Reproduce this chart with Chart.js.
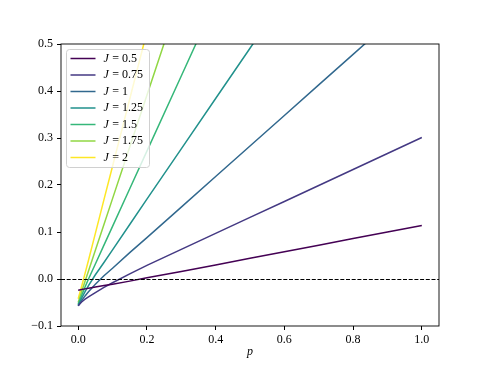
<!DOCTYPE html>
<html>
<head>
<meta charset="utf-8">
<script src="https://cdn.jsdelivr.net/npm/chart.js@4/dist/chart.umd.min.js"></script>
<style>
  html, body { margin: 0; padding: 0; background: #fff; }
  canvas { display: block; }
</style>
</head>
<body>
<canvas id="chart" width="488" height="366"></canvas>
<script>
// values
var pValues = [0, 0.01, 0.02, 0.03, 0.05, 0.075, 0.1, 0.15, 0.2, 0.3, 0.4, 0.5, 0.6, 0.7, 0.8, 0.9, 1.0];
var jValues = ['0.5', '0.75', '1', '1.25', '1.5', '1.75', '2'];
var series05  = [-0.024, -0.0225, -0.021, -0.0195, -0.017, -0.014, -0.011, -0.0045, 0.0025, 0.016, 0.030, 0.044, 0.058, 0.072, 0.086, 0.100, 0.114];
var series075 = [-0.057, -0.049, -0.043, -0.038, -0.029, -0.018, -0.008, 0.011, 0.029, 0.063, 0.097, 0.131, 0.165, 0.199, 0.233, 0.267, 0.301];
var series1   = [-0.057, -0.046, -0.036, -0.027, -0.011, 0.007, 0.023, 0.056, 0.088, 0.153, 0.218, 0.283, 0.348, 0.413, 0.478, 0.543, 0.608];
var series125 = [-0.056, -0.041, -0.027, -0.014, 0.009, 0.035, 0.062, 0.116, 0.170, 0.277, 0.384, 0.491, 0.598, 0.705, 0.812, 0.919, 1.026];
var series15  = [-0.054, -0.035, -0.017, 0.0, 0.032, 0.072, 0.112, 0.192, 0.272, 0.432, 0.592, 0.752, 0.912, 1.072, 1.232, 1.392, 1.552];
var series175 = [-0.050, -0.027, -0.005, 0.017, 0.061, 0.116, 0.171, 0.281, 0.391, 0.611, 0.831, 1.051, 1.271, 1.491, 1.711, 1.931, 2.151];
var series2   = [-0.042, -0.016, 0.012, 0.040, 0.097, 0.169, 0.240, 0.383, 0.526, 0.812, 1.098, 1.384, 1.670, 1.956, 2.242, 2.528, 2.814];
var allSeries = [series05, series075, series1, series125, series15, series175, series2];
var xTicks = [0, 0.2, 0.4, 0.6, 0.8, 1.0];
var yTicks = [-0.1, 0, 0.1, 0.2, 0.3, 0.4, 0.5];

var colors = ['#440154', '#443983', '#31688e', '#21918c', '#35b779', '#90d743', '#fde725'];
var serif = "'Liberation Serif', 'DejaVu Serif', serif";

var datasets = allSeries.map(function (s, i) {
    return {
        label: jValues[i],
        data: s.map(function (v, k) { return { x: pValues[k], y: v }; }),
        borderColor: colors[i],
        backgroundColor: colors[i],
        borderWidth: 1.5,
        pointRadius: 0,
        tension: 0,
        fill: false
    };
});

function fmtTick(v) {
    var s = v.toFixed(1);
    return s.charAt(0) === '-' ? '\u2212' + s.slice(1) : s;
}

var mplPlugin = {
    id: 'mpl',
    afterDatasetsDraw: function (chart) {
        var ctx = chart.ctx, a = chart.chartArea;
        var y0 = Math.round(chart.scales.y.getPixelForValue(0)) + 0.5;
        ctx.save();
        ctx.beginPath();
        ctx.rect(a.left, a.top, a.right - a.left, a.bottom - a.top);
        ctx.clip();
        ctx.strokeStyle = '#000';
        ctx.lineWidth = 1;
        ctx.setLineDash([4, 1.7]);
        ctx.beginPath();
        ctx.moveTo(a.left, y0);
        ctx.lineTo(a.right, y0);
        ctx.stroke();
        ctx.restore();
    },
    afterDraw: function (chart) {
        var ctx = chart.ctx, a = chart.chartArea;
        ctx.save();
        // legend
        var lx = a.left + 5.5, ly = a.top + 5.5, lw = 83, lh = 118, r = 3;
        ctx.fillStyle = 'rgba(255,255,255,0.8)';
        ctx.strokeStyle = '#d0d0d0';
        ctx.lineWidth = 1;
        ctx.beginPath();
        ctx.moveTo(lx + r, ly);
        ctx.lineTo(lx + lw - r, ly);
        ctx.arcTo(lx + lw, ly, lx + lw, ly + r, r);
        ctx.lineTo(lx + lw, ly + lh - r);
        ctx.arcTo(lx + lw, ly + lh, lx + lw - r, ly + lh, r);
        ctx.lineTo(lx + r, ly + lh);
        ctx.arcTo(lx, ly + lh, lx, ly + lh - r, r);
        ctx.lineTo(lx, ly + r);
        ctx.arcTo(lx, ly, lx + r, ly, r);
        ctx.closePath();
        ctx.fill();
        ctx.stroke();
        ctx.textBaseline = 'middle';
        chart.data.datasets.forEach(function (ds, i) {
            var yy = ly + 9 + i * 16.5;
            ctx.strokeStyle = ds.borderColor;
            ctx.lineWidth = 1.5;
            ctx.beginPath();
            ctx.moveTo(lx + 4, yy);
            ctx.lineTo(lx + 29, yy);
            ctx.stroke();
            ctx.fillStyle = '#000';
            ctx.font = 'italic 12px ' + serif;
            ctx.fillText('J', lx + 37, yy);
            var w = ctx.measureText('J').width;
            ctx.font = '12px ' + serif;
            ctx.fillText('\u2009= ' + ds.label, lx + 37 + w + 1, yy);
        });
        // frame
        ctx.strokeStyle = '#000';
        ctx.lineWidth = 0.9;
        ctx.strokeRect(a.left, a.top, a.right - a.left, a.bottom - a.top);
        ctx.restore();
    }
};

new Chart(document.getElementById('chart').getContext('2d'), {
    type: 'line',
    data: { datasets: datasets },
    options: {
        responsive: false,
        animation: false,
        events: [],
        layout: { padding: { left: 0, right: 49, top: 44, bottom: 0 } },
        plugins: { legend: { display: false }, tooltip: { enabled: false } },
        scales: {
            x: {
                type: 'linear',
                min: -0.05,
                max: 1.05,
                afterBuildTicks: function (scale) {
                    scale.ticks = xTicks.map(function (v) { return { value: v }; });
                },
                afterFit: function (scale) { scale.height = 40; },
                border: { display: false },
                grid: { drawOnChartArea: false, drawTicks: true, tickLength: 4, color: '#000' },
                ticks: {
                    color: '#000',
                    padding: 3,
                    maxRotation: 0,
                    font: { family: serif, size: 12 },
                    callback: function (v) { return fmtTick(v); }
                },
                title: {
                    display: true,
                    text: 'p',
                    color: '#000',
                    padding: { top: 0, bottom: 7 },
                    font: { family: serif, size: 12, style: 'italic' }
                }
            },
            y: {
                type: 'linear',
                min: -0.1,
                max: 0.5,
                afterBuildTicks: function (scale) {
                    scale.ticks = yTicks.map(function (v) { return { value: v }; });
                },
                afterFit: function (scale) { scale.width = 61; },
                border: { display: false },
                grid: { drawOnChartArea: false, drawTicks: true, tickLength: 4, color: '#000' },
                ticks: {
                    color: '#000',
                    padding: 4,
                    font: { family: serif, size: 12 },
                    callback: function (v) { return fmtTick(v); }
                }
            }
        }
    },
    plugins: [mplPlugin]
});
</script>
</body>
</html>
